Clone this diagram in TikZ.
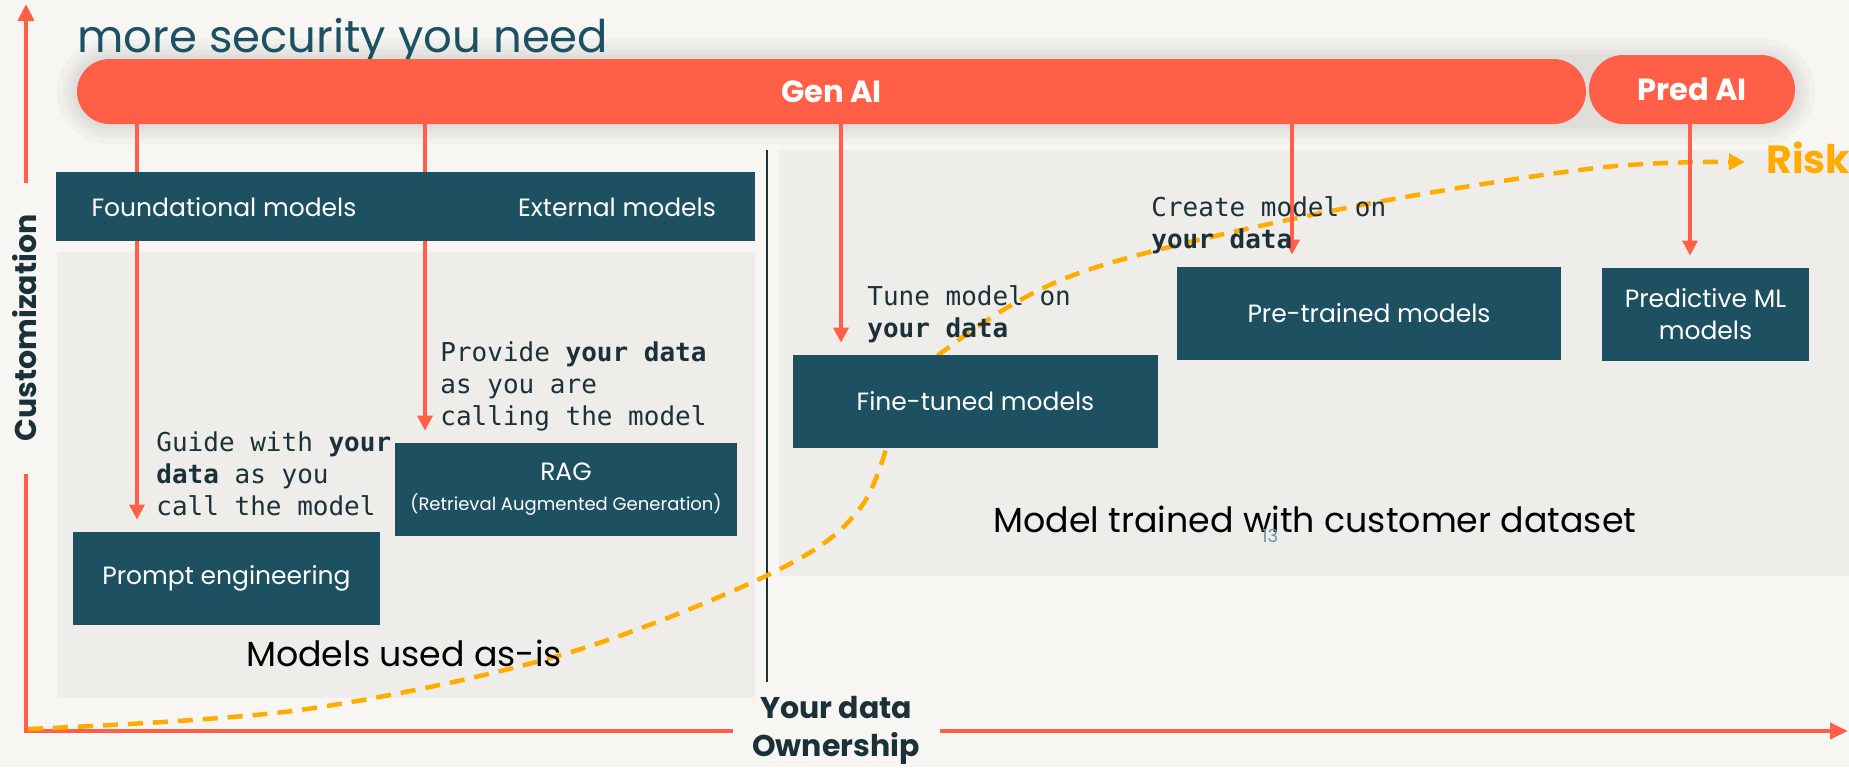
\documentclass[tikz,border=0pt]{standalone}
\usepackage{fontspec}
\setmainfont{Poppins}
\setmonofont{DejaVu Sans Mono}
\usetikzlibrary{arrows.meta}

\definecolor{pagebg}{HTML}{F7F6F3}
\definecolor{panelbg}{HTML}{EEEDE9}
\definecolor{boxteal}{HTML}{1D5061}
\definecolor{titleteal}{HTML}{1B5162}
\definecolor{ink}{HTML}{1B3139}
\definecolor{accent}{HTML}{FF5F46}
\definecolor{riskcol}{HTML}{FFAB00}
\definecolor{pagenum}{HTML}{6F93A6}

\pgfdeclarelayer{bottom}
\pgfdeclarelayer{middle}
\pgfsetlayers{bottom,middle,main}

\begin{document}
\begin{tikzpicture}[x=0.5pt,y=-0.5pt,
  panel/.style={fill=panelbg, draw=none, inner sep=0pt},
  modelbox/.style={fill=boxteal, draw=none, text=white, inner sep=0pt, align=center,
    font=\fontsize{12.5}{16}\selectfont},
  boxlabel/.style={text=white, inner sep=0pt, font=\fontsize{12.5}{16}\selectfont},
  aipill/.style={fill=accent, draw=none, text=white, inner sep=0pt,
    font=\bfseries\fontsize{15.3}{18}\selectfont},
  halo/.style={fill=black, opacity=0.022},
  feed/.style={draw=accent, line width=1.6pt, shorten >=6pt,
    -{Triangle[length=7.5pt,width=7.5pt]}},
  axisline/.style={draw=accent, line width=2pt},
  hint/.style={text=ink, inner sep=0pt, align=left, anchor=north west,
    font=\ttfamily\fontsize{13}{16}\selectfont},
  zone/.style={text=black, inner sep=0pt, anchor=base, font=\fontsize{17.4}{20}\selectfont},
  axislabel/.style={text=ink, inner sep=0pt, align=center,
    font=\bfseries\fontsize{15}{19}\selectfont},
]

% page and frame
\begin{pgfonlayer}{bottom}
  \fill[pagebg] (0,0) rectangle (1849,767);
  \node[panel, minimum width=349pt, minimum height=223pt] (asis) at (406,475) {};
  \node[panel, minimum width=535pt, minimum height=213pt] (trained) at (1314,363) {};
\end{pgfonlayer}
\useasboundingbox (0,0) rectangle (1849,767);

% heading
\node[anchor=base west, inner sep=0pt, text=titleteal, font=\fontsize{22.5}{26}\selectfont]
  (title) at (77,52) {more security you need};

% Gen AI / Pred AI bars
\node[aipill, rounded corners=16.25pt, minimum width=754.5pt, minimum height=32.5pt]
  (genai) at (831.5,91.5) {Gen AI};
\node[aipill, rounded corners=17.25pt, minimum width=103pt, minimum height=34.5pt]
  (predai) at (1692,89.5) {Pred AI};

% model boxes
\node[modelbox, minimum width=349.5pt, minimum height=34.5pt] (found) at (405.5,206.5) {};
\node[boxlabel] (foundtxt) at (224,207) {Foundational models};
\node[boxlabel] (exttxt) at (617,207) {External models};
\node[modelbox, minimum width=153.5pt, minimum height=46.5pt] (prompt) at (226.5,578.5) {Prompt engineering};
\node[modelbox, minimum width=171pt, minimum height=46.5pt] (rag) at (566,489.5)
  {RAG\\[-1pt]{\fontsize{9}{12}\selectfont(Retrieval Augmented Generation)}};
\node[modelbox, minimum width=182.5pt, minimum height=46.5pt] (fine) at (975.5,401.5) {Fine-tuned models};
\node[modelbox, minimum width=192pt, minimum height=46.5pt] (pre) at (1369,313.5) {Pre-trained models};
\node[modelbox, minimum width=103.5pt, minimum height=46.5pt] (predml) at (1705.5,314.5) {Predictive ML\\models};

% zone captions
\node[zone] (asislabel) at (404,666) {Models used as-is};
\node[zone] (trainedlabel) at (1315,532) {Model trained with customer dataset};
\node[text=pagenum, inner sep=0pt, font=\fontsize{9}{10}\selectfont] (pageno) at (1270,536) {13};

% data hints
\node[hint] (hguide) at (156,431) {Guide with \textbf{your}\\\textbf{data} as you\\call the model};
\node[hint] (hprovide) at (440,341) {Provide \textbf{your data}\\as you are\\calling the model};
\node[hint] (htune) at (867,285) {Tune model on\\\textbf{your data}};
\node[hint] (hcreate) at (1151,196) {Create model on\\\textbf{your data}};

% axes
\node[axislabel, rotate=90] (ylab) at (25,328) {Customization};
\node[axislabel, anchor=north] (xlab) at (836,696) {Your data\\Ownership};
\coordinate (origin) at (26,731);
\coordinate (ylow) at (26,474);
\coordinate (yhigh) at (26,183);
\coordinate (ytip) at (26,4);
\coordinate (xleft) at (733,731);
\coordinate (xright) at (940,731);
\coordinate (xtip) at (1848,731);

% risk label
\node[anchor=base west, inner sep=0pt, text=riskcol, font=\bfseries\fontsize{19.7}{22}\selectfont]
  (risk) at (1766,173) {Risk};

% feed lines from the bars
\coordinate (f1) at (137,0);
\coordinate (f2) at (425,0);
\coordinate (f3) at (841,0);
\coordinate (f4) at (1292,0);
\coordinate (f5) at (1690,0);
\coordinate (divtop) at (767,150);
\coordinate (divbot) at (767,682);
\coordinate (riskstart) at (28,729);
\coordinate (riskend) at (1745,162);

\begin{pgfonlayer}{middle}
  % soft glow around the bars
  \foreach \d/\r in {4/18, 9/21, 14/24, 20/27} {
    \fill[halo, rounded corners=\r pt]
      ([shift={(-\d,\d)}]genai.south west) rectangle ([shift={(\d,-\d)}]predai.north east |- genai.north);
  }
  \draw[ink, line width=1pt] (divtop) -- (divbot);
  \draw[axisline, line join=miter] (ylow) -- (origin) -- (xleft);
  \draw[axisline, -{Triangle[length=8.5pt,width=8pt]}] (yhigh) -- (ytip);
  \draw[axisline, -{Triangle[length=9pt,width=8pt]}] (xright) -- (xtip);
  \draw[riskcol, line width=2.25pt, dash pattern=on 7.5pt off 5pt,
        -{Triangle[length=8pt,width=8pt]}]
    plot[smooth, tension=0.55] coordinates {(riskstart) (300,710) (561,655) (774,572)
      (861,507) (903,402) (945,350) (1079,273) (1336,210) (1596,168) (riskend)};
  \draw[feed] (genai.south -| f1) -- (prompt.north -| f1);
  \draw[feed] (genai.south -| f2) -- (rag.north -| f2);
  \draw[feed] (genai.south -| f3) -- (fine.north -| f3);
  \draw[feed] (genai.south -| f4) -- (pre.north -| f4);
  \draw[feed] (predai.south -| f5) -- (predml.north -| f5);
\end{pgfonlayer}
\end{tikzpicture}
\end{document}
